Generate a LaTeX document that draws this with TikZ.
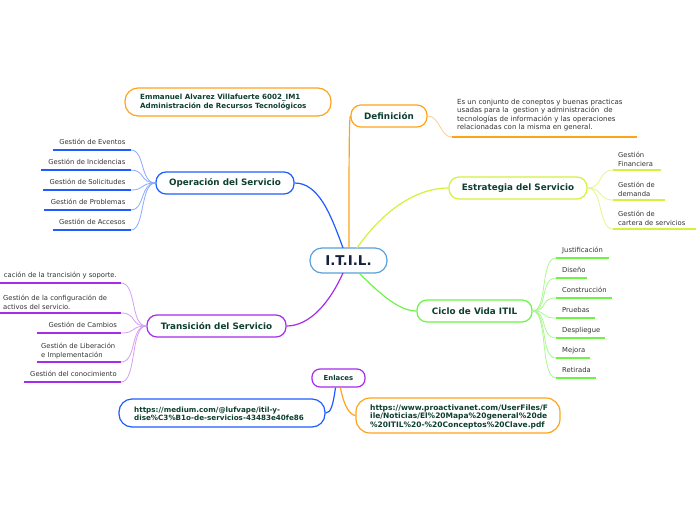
\documentclass[tikz,border=0pt]{standalone}
\usepackage{fontspec}
\setmainfont{DejaVu Sans}
\definecolor{cblue}{HTML}{1F5BFF}
\definecolor{lblue}{HTML}{8AABFF}
\definecolor{corange}{HTML}{FFA31A}
\definecolor{lorange}{HTML}{FFCF8A}
\definecolor{clime}{HTML}{D2F23E}
\definecolor{llime}{HTML}{E4F78A}
\definecolor{cgreen}{HTML}{6DF545}
\definecolor{lgreen}{HTML}{ABF791}
\definecolor{cpurple}{HTML}{A52CEB}
\definecolor{lpurple}{HTML}{D4A0F5}
\definecolor{ccenter}{HTML}{5AA0DA}
\definecolor{ttitle}{HTML}{0D3F30}
\definecolor{tcenter}{HTML}{16213E}
\definecolor{tleaf}{HTML}{333333}
\tikzset{
  topic/.style={rounded corners=10pt, line width=1.2pt, fill=white, text=ttitle,
    font=\bfseries\fontsize{8.8}{10}\selectfont, inner sep=0pt},
  leaftxt/.style={text=tleaf, font=\fontsize{6.8}{9}\selectfont, inner sep=0pt, align=left},
  leaftxtr/.style={text=tleaf, font=\fontsize{6.8}{9}\selectfont, inner sep=0pt, align=right},
  uline/.style={line width=1.8pt},
  mainlink/.style={line width=1.2pt},
  sublink/.style={line width=0.8pt},
}
\begin{document}
\begin{tikzpicture}[x=1pt,y=-1pt]
\useasboundingbox[fill=white] (0,0) rectangle (696,520);

% ---------- central ----------
\node[topic, draw=ccenter, text=tcenter, font=\bfseries\fontsize{13.5}{15}\selectfont,
  minimum width=77pt, minimum height=25pt, rounded corners=12pt] (c) at (348.5,260.5) {I.T.I.L.};

% ---------- author ----------
\node[topic, draw=corange, minimum width=206pt, minimum height=28pt, rounded corners=13pt] (auth) at (228,102) {};
\node[anchor=west, align=left, text=ttitle, font=\bfseries\fontsize{7.15}{8.5}\selectfont, inner sep=0pt]
  (authtxt) at (140,102) {Emmanuel Alvarez Villafuerte 6002\_IM1\\Administración de Recursos Tecnológicos};

% ---------- main topics ----------
\node[topic, draw=corange, minimum width=76pt, minimum height=22pt] (def) at (389,116) {Definición};
\node[topic, draw=clime, minimum width=138pt, minimum height=22pt] (est) at (518,188) {Estrategia del Servicio};
\node[topic, draw=cgreen, minimum width=115pt, minimum height=22pt] (cic) at (474.5,311) {Ciclo de Vida ITIL};
\node[topic, draw=cblue, minimum width=138pt, minimum height=22pt] (op) at (225,183) {Operación del Servicio};
\node[topic, draw=cpurple, minimum width=139pt, minimum height=22pt] (tr) at (216.5,326) {Transición del Servicio};
\node[topic, draw=cpurple, font=\bfseries\fontsize{6.9}{8}\selectfont, minimum width=53pt, minimum height=18pt, rounded corners=8pt] (enl) at (338.5,378) {Enlaces};

% ---------- link boxes ----------
\node[topic, draw=cblue, minimum width=206pt, minimum height=28pt, rounded corners=13pt] (med) at (222,413) {};
\node[anchor=west, align=left, text=ttitle, font=\bfseries\fontsize{7.2}{8.3}\selectfont, inner sep=0pt]
  (medtxt) at (134,414) {https://medium.com/@lufvape/itil-y-\\dise\%C3\%B1o-de-servicios-43483e40fe86};
\node[topic, draw=corange, minimum width=204pt, minimum height=35pt, rounded corners=14pt] (pro) at (458,415.5) {};
\node[anchor=west, align=left, text=ttitle, font=\bfseries\fontsize{7.5}{8.5}\selectfont, inner sep=0pt]
  (protxt) at (370,416.5) {https://www.proactivanet.com/UserFiles/F\\ile/Noticias/El\%20Mapa\%20general\%20de\\\%20ITIL\%20-\%20Conceptos\%20Clave.pdf};

% ---------- main connectors ----------
\draw[mainlink, corange] (349,248) .. controls (349,170) and (349,116) .. (def.west);
\draw[mainlink, cblue] (343,248) .. controls (330,212) and (318,183) .. (op.east);
\draw[mainlink, clime] (357,248) .. controls (385,208) and (418,188) .. (est.west);
\draw[mainlink, cgreen] (359,273) .. controls (382,296) and (400,311) .. (cic.west);
\draw[mainlink, cpurple] (343,273) .. controls (330,302) and (310,326) .. (tr.east);
\draw[mainlink, cblue] (enl.south) ++(-3,0) coordinate (enlb) .. controls (333,405) and (331,413) .. (med.east);
\draw[mainlink, corange] (enl.south) ++(2,0) coordinate (enlo) .. controls (343,403) and (349,415) .. (pro.west);

% ---------- definition ----------
\node[leaftxt, anchor=north west, font=\fontsize{7}{8.4}\selectfont] (deftxt) at (457,99)
  {Es un conjunto de coneptos y buenas practicas\\usadas para la\ \ gestion y administración\ \ de\\tecnologías de información y las operaciones\\relacionadas con la misma en general.};
\coordinate (du1) at (452,137); \coordinate (du2) at (637,137);
\draw[uline, corange] (du1) -- (du2);
\draw[sublink, lorange] (def.east) .. controls (440,116) and (440,137) .. (du1);

% ---------- estrategia children ----------
\foreach \n/\y/\xr/\t in {ef/170/661/{Gestión\\Financiera}, ed/200/665/{Gestión de\\demanda}, ec/229/696/{Gestión de\\cartera de servicios}}{
  \coordinate (\n a) at (613,\y); \coordinate (\n b) at (\xr,\y);
  \node[leaftxt, anchor=south west] (\n) at (618,\y-3) {\t};
  \draw[uline, clime] (\n a) -- (\n b);
  \draw[sublink, llime] (est.east) .. controls (603,188) and (598,\y) .. (\n a);
}

% ---------- ciclo children ----------
\foreach \n/\y/\xr/\t in {j/258/609/Justificación, d/278/587/Diseño, co/298/612/Construcción, p/318/595/Pruebas, de/338/605/Despliegue, m/358/590/Mejora, r/378/596/Retirada}{
  \coordinate (\n a) at (556,\y); \coordinate (\n b) at (\xr,\y);
  \node[leaftxt, anchor=base west] (\n) at (562,\y-5.5) {\t};
  \draw[uline, cgreen] (\n a) -- (\n b);
  \draw[sublink, lgreen] (cic.east) .. controls (548,311) and (540,\y) .. (\n a);
}

% ---------- operacion children ----------
\foreach \n/\y/\xl/\t in {ev/150/53/Gestión de Eventos, in/170/41/Gestión de Incidencias, so/190/43/Gestión de Solicitudes, pr/210/44/Gestión de Problemas, ac/230/53/Gestión de Accesos}{
  \coordinate (\n a) at (131,\y); \coordinate (\n b) at (\xl,\y);
  \node[leaftxtr, anchor=base east] (\n) at (125.5,\y-5.5) {\t};
  \draw[uline, cblue] (\n a) -- (\n b);
  \draw[sublink, lblue] (op.west) .. controls (140,183) and (145,\y) .. (\n a);
}

% ---------- transicion children ----------
\foreach \n/\y/\xl in {tp/283/0, tg/313/0, tc/333/37, tl/362/37, tk/382/24}{
  \coordinate (\n a) at (121,\y); \coordinate (\n b) at (\xl,\y);
  \draw[uline, cpurple] (\n a) -- (\n b);
  \draw[sublink, lpurple] (tr.west) .. controls (130,326) and (137,\y) .. (\n a);
}
\node[leaftxtr, anchor=base east] (tp) at (117,277.5) {cación de la trancisión y soporte.};
\node[leaftxt, anchor=south west] (tg) at (3,310) {Gestión de la configuración de\\activos del servicio.};
\node[leaftxtr, anchor=base east] (tc) at (117,327.5) {Gestión de Cambios};
\node[leaftxt, anchor=south west] (tl) at (41,359) {Gestión de Liberación\\e Implementación};
\node[leaftxtr, anchor=base east] (tk) at (117,376.5) {Gestión del conocimiento};
\end{tikzpicture}
\end{document}
